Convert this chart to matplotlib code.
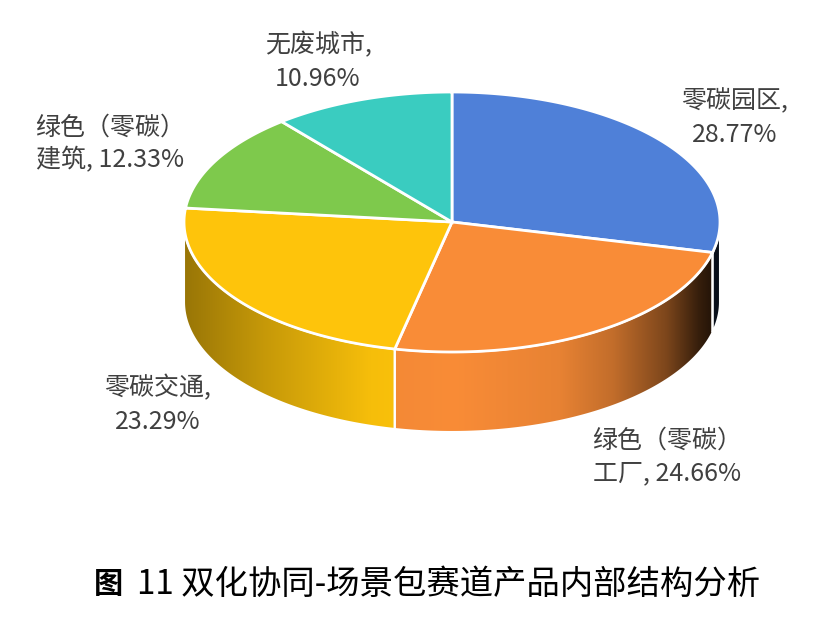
import numpy as np
import matplotlib.pyplot as plt
from matplotlib.patches import Polygon

plt.rcParams['font.family'] = ['Noto Sans CJK SC', 'DejaVu Sans']

# data
categories = ['零碳园区', '绿色（零碳）\n工厂', '零碳交通', '绿色（零碳）\n建筑', '无废城市']
shares = [28.77, 24.66, 23.29, 12.33, 10.96]
colors = ['#4F80D8', '#F98C37', '#FEC40B', '#7EC94C', '#3ACCC0']
caption = '双化协同-场景包赛道产品内部结构分析'

# layout (pixel-like units, y down)
CX, CY, RX, RY, DEPTH = 452, 222, 268, 130, 80
label_pos = [(735, 118), (667, 457), (158, 405), (110, 144), (318, 62)]

# shading of the side wall along x
shade_u = [-1.0, -0.7, -0.3, 0.0, 0.4, 0.6, 0.8, 0.92, 1.0]
shade_f = [0.60, 0.78, 0.97, 1.0, 0.93, 0.78, 0.50, 0.22, 0.10]

fig = plt.figure(figsize=(8.31, 6.31), dpi=100)
ax = fig.add_axes([0, 0, 1, 1])
ax.set_xlim(0, 831)
ax.set_ylim(631, 0)
ax.axis('off')


def arc(a0, a1, n=200, dy=0):
    t = np.radians(np.linspace(a0, a1, n))
    return np.column_stack([CX + RX * np.cos(t), CY - RY * np.sin(t) + dy])


# slice angles, clockwise from 12 o'clock
total = sum(shares)
starts = 90 - 360 * np.cumsum([0] + shares[:-1]) / total
ends = 90 - 360 * np.cumsum(shares) / total

# side walls (front half only: angles between -180 and 0)
for a0, a1, c in zip(starts, ends, colors):
    lo0 = min(a0, 0)
    lo1 = max(a1, -180)
    if lo0 <= lo1:
        continue
    top = arc(lo0, lo1)
    bot = arc(lo1, lo0, dy=DEPTH)
    poly = Polygon(np.vstack([top, bot]), closed=True, facecolor='none',
                   edgecolor='white', lw=1.5, zorder=3)
    ax.add_patch(poly)
    x0, x1 = top[:, 0].min(), top[:, 0].max()
    xs = np.linspace(x0, x1, 300)
    f = np.interp((xs - CX) / RX, shade_u, shade_f)
    base = np.array(plt.matplotlib.colors.to_rgb(c))
    img = np.clip(base[None, :] * f[:, None], 0, 1)[None, :, :]
    im = ax.imshow(img, extent=(x0, x1, CY + RY + DEPTH + 5, CY - 5),
                   aspect='auto', interpolation='bilinear', zorder=2)
    im.set_clip_path(poly)

# top surface
for a0, a1, c in zip(starts, ends, colors):
    pts = np.vstack([[CX, CY], arc(a0, a1)])
    ax.add_patch(Polygon(pts, closed=True, facecolor=c, edgecolor='white',
                         lw=2, zorder=4))

# data labels
for name, v, (x, y) in zip(categories, shares, label_pos):
    if '\n' in name:
        a, b = name.split('\n')
        txt = f'{a}\n{b}, {v:.2f}%'
    else:
        txt = f'{name},\n{v:.2f}%'
    ax.text(x, y, txt, ha='center', va='center', fontsize=18,
            color='#404040', linespacing=1.35, zorder=5)

# caption
ax.text(108, 584, '图', ha='center', va='center', fontsize=21,
        fontweight='bold', color='black')
ax.text(137, 584, '11 ' + caption, ha='left', va='center', fontsize=24,
        fontweight='light', color='black')

plt.savefig('out.png', dpi=100)
plt.close()
